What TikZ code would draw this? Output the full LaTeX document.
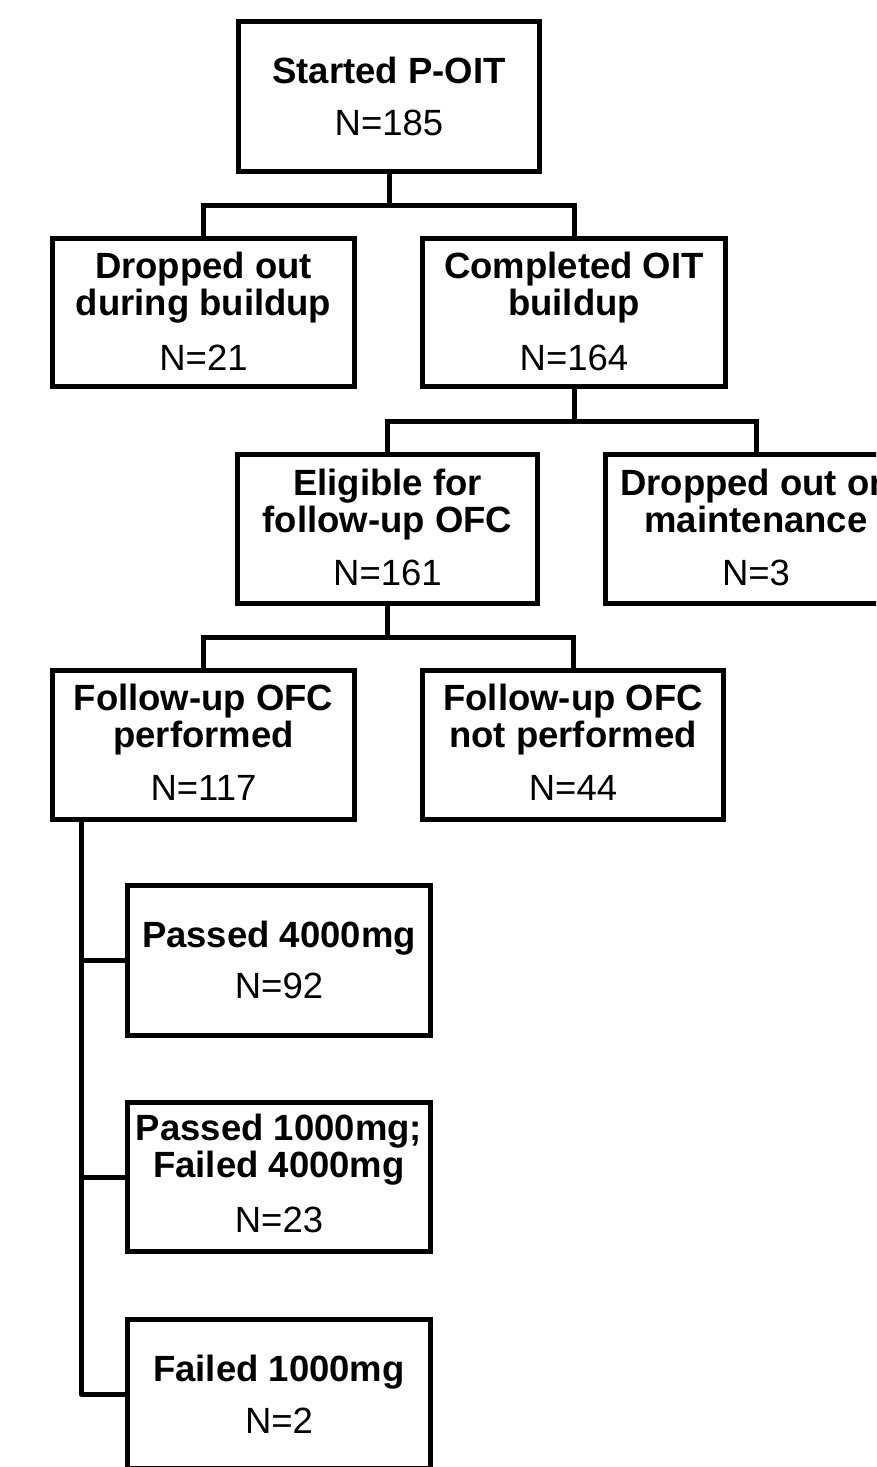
\documentclass[tikz,border=0pt]{standalone}
\usepackage{fontspec}
\setmainfont{Liberation Sans}
\tikzset{
  box/.style={draw, line width=5pt, inner sep=0pt, minimum width=302pt, minimum height=149pt},
  conn/.style={line width=5pt, line join=miter},
  ttl/.style={inner sep=0pt, anchor=base, font=\fontsize{36.5}{37}\selectfont\bfseries},
  num/.style={inner sep=0pt, anchor=base, font=\fontsize{36.5}{37}\selectfont},
}
\begin{document}
\begin{tikzpicture}[x=1pt,y=-1pt]
\useasboundingbox (0,0) rectangle (876,1467);
\clip (0,0) rectangle (876,1467);
% boxes
\node[box, minimum width=301pt, minimum height=150pt] (S) at (389,96.5) {};
\node[box, minimum height=148pt] (D1) at (203.5,312.5) {};
\node[box, minimum width=303pt, minimum height=148pt] (C) at (574,312.5) {};
\node[box, minimum width=300pt] (E) at (387.5,529) {};
\node[box, minimum width=301pt] (M) at (756,529) {};
\node[box] (F) at (203.5,745) {};
\node[box, minimum width=301pt] (NP) at (573,745) {};
\node[box, minimum width=303pt, minimum height=150pt] (P4) at (279,960.5) {};
\node[box, minimum width=303pt] (P1) at (279,1177) {};
\node[box, minimum width=303pt] (F1) at (279,1394) {};
% texts
\node[ttl] (tS1) at (389,83) {Started P-OIT};
\node[num] (tS2) at (389,135) {N=185};
\node[ttl] (tD1a) at (203.5,278) {Dropped out};
\node[ttl] (tD1b) at (203.5,315) {during buildup};
\node[num] (tD1c) at (203.5,370) {N=21};
\node[ttl] (tCa) at (574,278) {Completed OIT};
\node[ttl] (tCb) at (574,315) {buildup};
\node[num] (tCc) at (574,370) {N=164};
\node[ttl] (tEa) at (387.5,495) {Eligible for};
\node[ttl] (tEb) at (387.5,532) {follow-up OFC};
\node[num] (tEc) at (387.5,585) {N=161};
\node[ttl] (tMa) at (756,495) {Dropped out on};
\node[ttl] (tMb) at (756,532) {maintenance};
\node[num] (tMc) at (756,585) {N=3};
\node[ttl] (tFa) at (203.5,710) {Follow-up OFC};
\node[ttl] (tFb) at (203.5,747) {performed};
\node[num] (tFc) at (203.5,800) {N=117};
\node[ttl] (tNPa) at (573,710) {Follow-up OFC};
\node[ttl] (tNPb) at (573,747) {not performed};
\node[num] (tNPc) at (573,800) {N=44};
\node[ttl] (tP4a) at (279,947) {Passed 4000mg};
\node[num] (tP4b) at (279,998) {N=92};
\node[ttl] (tP1a) at (279,1140) {Passed 1000mg;};
\node[ttl] (tP1b) at (279,1177) {Failed 4000mg};
\node[num] (tP1c) at (279,1232) {N=23};
\node[ttl] (tF1a) at (279,1381) {Failed 1000mg};
\node[num] (tF1b) at (279,1433) {N=2};
% connectors
\coordinate (j1) at (389,205);
\draw[conn] (S.south) -- (j1);
\draw[conn] (D1.north) |- (j1) -| (C.north);
\coordinate (j2) at (574,421);
\draw[conn] (C.south) -- (j2);
\draw[conn] (E.north) |- (j2) -| (M.north);
\coordinate (j3) at (387.5,637);
\draw[conn] (E.south) -- (j3);
\draw[conn] (F.north) |- (j3) -| (NP.north);
\coordinate (t0) at (81,745);
\draw[conn, line join=round] (t0 |- F.south) -- (t0 |- F1.west) -- (F1.west);
\draw[conn] (t0 |- P4.west) -- (P4.west);
\draw[conn] (t0 |- P1.west) -- (P1.west);
\end{tikzpicture}
\end{document}
